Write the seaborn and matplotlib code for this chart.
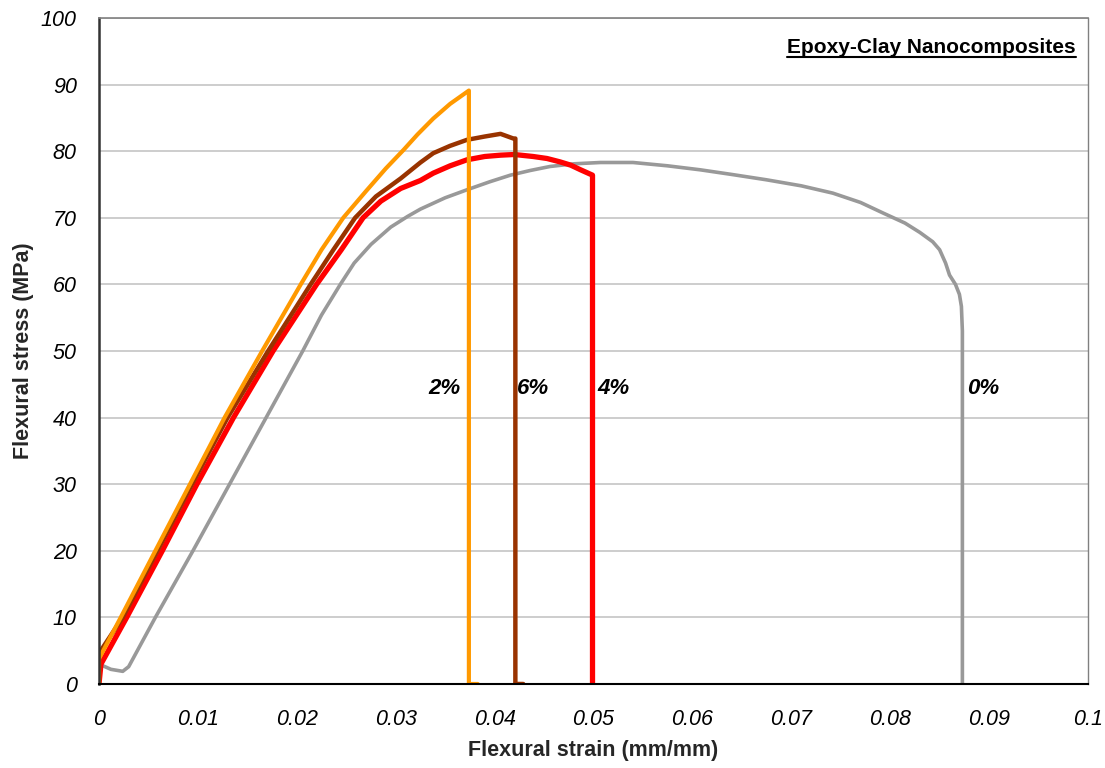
import matplotlib
matplotlib.use("Agg")
import matplotlib.pyplot as plt
import seaborn as sns
import pandas as pd
from matplotlib.lines import Line2D

# ---- data ----
x_2pct = [0, 0, 0.0022, 0.0057, 0.0092, 0.0127, 0.0146, 0.0165, 0.0204, 0.0225, 0.0247,
          0.0270, 0.0290, 0.0308, 0.0322, 0.0338, 0.0355, 0.0374, 0.0374, 0.0383]
y_2pct = [0, 3.8, 10, 20, 30, 40, 45, 50, 60, 65.2, 70, 74, 77.4, 80.2, 82.5, 84.9,
          87.1, 89.1, 0, 0]

x_6pct = [0, 0, 0.0024, 0.0059, 0.0094, 0.0130, 0.0171, 0.0214, 0.0237, 0.0259, 0.0280,
          0.0305, 0.0325, 0.0338, 0.0355, 0.0372, 0.0390, 0.0406, 0.0419, 0.0421, 0.0421,
          0.0429]
y_6pct = [0, 4.6, 10, 20, 30, 40, 50, 60, 65.2, 70, 73.2, 75.9, 78.3, 79.7, 80.8, 81.7,
          82.2, 82.6, 81.9, 81.9, 0, 0]

x_4pct = [0, 0.0002, 0.0028, 0.0064, 0.0099, 0.0136, 0.0176, 0.0220, 0.0245, 0.0267,
          0.0285, 0.0305, 0.0325, 0.0338, 0.0355, 0.0372, 0.0390, 0.0406, 0.0420, 0.0439,
          0.0453, 0.0466, 0.0477, 0.0487, 0.0499, 0.0499]
y_4pct = [0, 3.0, 10, 20, 30, 40, 50, 60, 65.2, 70, 72.5, 74.4, 75.6, 76.7, 77.8, 78.7,
          79.2, 79.4, 79.5, 79.2, 78.9, 78.4, 77.9, 77.2, 76.4, 0]

x_0pct = [0, 0.0012, 0.0024, 0.0030, 0.0057, 0.0095, 0.0132, 0.0169, 0.0206, 0.0225,
          0.0244, 0.0258, 0.0275, 0.0295, 0.0312, 0.0325, 0.0350, 0.0372, 0.0395, 0.0416,
          0.0436, 0.0456, 0.0480, 0.0507, 0.0540, 0.0575, 0.0608, 0.0640, 0.0675, 0.0710,
          0.0742, 0.0770, 0.0793, 0.0815, 0.0830, 0.0843, 0.0850, 0.0856, 0.0860, 0.0866,
          0.0870, 0.0872, 0.0873, 0.0873, 0.0873]
y_0pct = [3.0, 2.2, 1.9, 2.6, 10, 20, 30, 40, 50, 55.4, 60, 63.2, 66, 68.6, 70.2, 71.3,
          73.0, 74.2, 75.4, 76.4, 77.1, 77.7, 78.1, 78.3, 78.3, 77.8, 77.2, 76.5, 75.7,
          74.8, 73.7, 72.3, 70.7, 69.2, 67.8, 66.4, 65.2, 63.2, 61.4, 60.0, 58.5, 56.7,
          53.0, 50.2, 0]

series_names = ["0%", "4%", "6%", "2%"]
series_colors = {"0%": "#999999", "4%": "#FF0000", "6%": "#993300", "2%": "#FF9900"}
series_widths = {"0%": 2.6, "4%": 3.8, "6%": 3.2, "2%": 3.0}

x_ticks = [0, 0.01, 0.02, 0.03, 0.04, 0.05, 0.06, 0.07, 0.08, 0.09, 0.1]
x_tick_labels = ["0", "0.01", "0.02", "0.03", "0.04", "0.05", "0.06", "0.07", "0.08", "0.09", "0.1"]
y_ticks = list(range(0, 101, 10))

# ---- build long table ----
frames = []
for name, xs, ys in [("0%", x_0pct, y_0pct), ("4%", x_4pct, y_4pct),
                     ("6%", x_6pct, y_6pct), ("2%", x_2pct, y_2pct)]:
    frames.append(pd.DataFrame({"strain": xs, "stress": ys, "series": name}))
df = pd.concat(frames, ignore_index=True)

sns.set_theme(style="white")
plt.rcParams["font.family"] = ["Liberation Sans", "DejaVu Sans"]

fig = plt.figure(figsize=(11.05, 7.68), dpi=100)
ax = fig.add_axes([0.0896, 0.1094, 0.8950, 0.8672])

for name in series_names:
    sub = df[df["series"] == name]
    sns.lineplot(data=sub, x="strain", y="stress", sort=False, estimator=None,
                 color=series_colors[name], linewidth=series_widths[name], ax=ax,
                 solid_joinstyle="round")

ax.set_xlim(0, 0.1)
ax.set_ylim(0, 100)
ax.set_xticks(x_ticks)
ax.set_xticklabels(x_tick_labels, fontsize=15.5, style="italic")
ax.set_yticks(y_ticks)
ax.set_yticklabels([str(v) for v in y_ticks], fontsize=15.5, style="italic")
ax.tick_params(axis="both", direction="out", length=6, width=1.2, color="#555555",
               labelcolor="black")
ax.tick_params(axis="x", pad=12)
ax.tick_params(axis="y", pad=10)
ax.yaxis.grid(True, color="#c0c0c0", linewidth=1.1)
ax.xaxis.grid(False)
ax.set_axisbelow(True)

ax.spines["left"].set_color("#333333")
ax.spines["left"].set_linewidth(1.8)
ax.spines["bottom"].set_color("black")
ax.spines["bottom"].set_linewidth(1.5)
ax.spines["top"].set_color("#808080")
ax.spines["top"].set_linewidth(1.2)
ax.spines["right"].set_color("#808080")
ax.spines["right"].set_linewidth(1.0)

ax.set_xlabel("Flexural strain (mm/mm)", fontsize=15.5, fontweight="bold", labelpad=7)
ax.set_ylabel("Flexural stress (MPa)", fontsize=15.5, fontweight="bold", labelpad=5)

# series labels
label_pos = {"2%": 0.0333, "6%": 0.0423, "4%": 0.0504, "0%": 0.0878}
for name, xp in label_pos.items():
    ax.text(xp, 44.4, name, fontsize=16, fontweight="bold", style="italic",
            ha="left", va="center", color="black")

# underlined title
t = ax.text(0.9875, 0.948, "Epoxy-Clay Nanocomposites", transform=ax.transAxes,
            ha="right", va="baseline", fontsize=15, fontweight="bold", color="black")
fig.canvas.draw()
bb = t.get_window_extent(renderer=fig.canvas.get_renderer())
inv = fig.transFigure.inverted()
(x0, y0), (x1, y1) = inv.transform([(bb.x0, bb.y0), (bb.x1, bb.y0)])
fig.add_artist(Line2D([x0, x1], [y0 - 0.001, y0 - 0.001], color="black",
                      linewidth=1.5, transform=fig.transFigure))

fig.savefig("out.png", dpi=100)
